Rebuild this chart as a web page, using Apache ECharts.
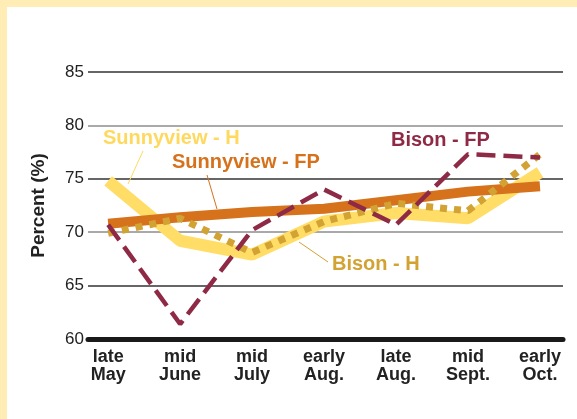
<!DOCTYPE html>
<html>
<head>
<meta charset="utf-8">
<script src="https://cdn.jsdelivr.net/npm/echarts@6/dist/echarts.min.js"></script>
<style>
  html, body { margin: 0; padding: 0; }
  #chart { width: 577px; height: 419px; }
</style>
</head>
<body>
<div id="chart"></div>
<script>
// categories (two-line labels)
const periods = ['late\nMay', 'mid\nJune', 'mid\nJuly', 'early\nAug.', 'late\nAug.', 'mid\nSept.', 'early\nOct.'];

// percent values
const sunnyviewH  = [74.8, 69.2, 67.9, 71.0, 71.8, 71.3, 75.6];
const sunnyviewFP = [70.8, 71.4, 71.9, 72.2, 73.0, 73.8, 74.3];
const bisonH      = [69.9, 71.3, 68.1, 71.0, 72.7, 72.0, 77.3];
const bisonFP     = [70.7, 61.4, 70.2, 74.0, 70.7, 77.3, 77.0];

const yTicks = [60, 65, 70, 75, 80, 85];

const chart = echarts.init(document.getElementById('chart'));

// pair each value with its category index
const toPoints = arr => arr.map((v, i) => [i, v]);

const labelFont = 'Liberation Sans, Arial, Helvetica, sans-serif';

const option = {
  animation: false,
  backgroundColor: '#FFEDB5',
  graphic: [
    { type: 'rect', z: -10, silent: true,
      shape: { x: 7, y: 7, width: 570, height: 412 },
      style: { fill: '#ffffff' } },
    // annotations
    { type: 'text', left: 103, top: 128, z: 10,
      style: { text: 'Sunnyview - H', fill: '#FFD95E', font: 'bold 20px ' + labelFont } },
    { type: 'line', z: 10, shape: { x1: 143, y1: 151, x2: 128, y2: 184 },
      style: { stroke: '#FFD95E', lineWidth: 1 } },
    { type: 'text', left: 172, top: 152, z: 10,
      style: { text: 'Sunnyview - FP', fill: '#D6711C', font: 'bold 20px ' + labelFont } },
    { type: 'line', z: 10, shape: { x1: 207, y1: 175, x2: 217, y2: 209 },
      style: { stroke: '#D6711C', lineWidth: 1 } },
    { type: 'text', left: 332, top: 254, z: 10,
      style: { text: 'Bison - H', fill: '#D2A232', font: 'bold 20px ' + labelFont } },
    { type: 'line', z: 10, shape: { x1: 328, y1: 262, x2: 299, y2: 242 },
      style: { stroke: '#D2A232', lineWidth: 1 } },
    { type: 'text', left: 391, top: 130, z: 10,
      style: { text: 'Bison - FP', fill: '#8F2A46', font: 'bold 20px ' + labelFont } }
  ],
  grid: { left: 88, right: 14, top: 72, bottom: 80 },
  xAxis: {
    type: 'value',
    min: -0.28,
    max: 6.32,
    splitLine: { show: false },
    axisTick: { show: false },
    axisLine: { show: true, onZero: false, lineStyle: { color: '#1a1a1a', width: 5 } },
    axisLabel: {
      customValues: periods.map((p, i) => i),
      formatter: v => periods[Math.round(v)],
      margin: 9,
      color: '#222',
      fontFamily: labelFont,
      fontWeight: 'bold',
      fontSize: 18,
      lineHeight: 18,
      showMinLabel: true,
      showMaxLabel: true
    }
  },
  yAxis: {
    type: 'value',
    min: yTicks[0],
    max: yTicks[yTicks.length - 1],
    interval: 5,
    name: 'Percent (%)',
    nameLocation: 'middle',
    nameGap: 40,
    nameTextStyle: { color: '#222', fontFamily: labelFont, fontWeight: 'bold', fontSize: 19 },
    axisLine: { show: false },
    axisTick: { show: false },
    axisLabel: { color: '#222', fontFamily: labelFont, fontSize: 17, margin: 4 },
    splitLine: {
      lineStyle: { color: ['#1a1a1a', '#333333', '#8c8c8c', '#333333', '#8c8c8c', '#333333'], width: 1.5 }
    }
  },
  series: [
    { name: 'Sunnyview - H', type: 'line', data: toPoints(sunnyviewH), symbol: 'none', z: 2,
      lineStyle: { color: '#FFDD66', width: 12 } },
    { name: 'Sunnyview - FP', type: 'line', data: toPoints(sunnyviewFP), symbol: 'none', z: 3,
      lineStyle: { color: '#D6711C', width: 10 } },
    { name: 'Bison - H', type: 'line', data: toPoints(bisonH), symbol: 'none', z: 4,
      lineStyle: { color: '#D2A232', width: 7, type: [7, 7] } },
    { name: 'Bison - FP', type: 'line', data: toPoints(bisonFP), symbol: 'none', z: 5,
      lineStyle: { color: '#8F2A46', width: 4.5, type: [19, 8] } }
  ]
};

chart.setOption(option);
</script>
</body>
</html>
